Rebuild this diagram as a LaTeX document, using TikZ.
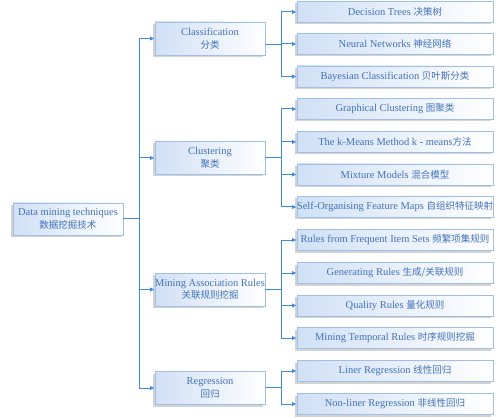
\documentclass[tikz,border=0pt]{standalone}
\usepackage{fontspec}
\setmainfont{Liberation Serif}
\newfontfamily\zhfont{Noto Sans CJK SC}
\newcommand{\zh}[1]{{\zhfont\fontsize{9.5}{11}\selectfont #1}}
\usetikzlibrary{arrows.meta,shadows,positioning,calc}
\definecolor{txtblue}{HTML}{4272B8}
\definecolor{bordblue}{HTML}{9EBFE6}
\definecolor{fillblue}{HTML}{D0E0F6}
\definecolor{linkblue}{HTML}{3D8BE0}
\tikzset{
  box/.style={draw=bordblue, line width=0.8pt, left color=fillblue, right color=white,
    text=txtblue, font=\fontsize{10.5}{12.5}\selectfont, align=center, inner sep=0pt,
    drop shadow={shadow xshift=-2pt, shadow yshift=-2pt, opacity=0.35, fill=gray}},
  rootbox/.style={box, minimum width=110pt, minimum height=32pt},
  midbox/.style={box, minimum width=110pt, minimum height=33pt},
  leafbox/.style={box, minimum width=196pt, minimum height=21pt},
  link/.style={color=linkblue, line width=1pt},
  arr/.style={link, -{Latex[length=4.5pt,width=4.5pt]}}
}
\begin{document}
\begin{tikzpicture}[x=1pt,y=-1pt]
\useasboundingbox (0,0) rectangle (499,420);
% root
\node[rootbox] (root) at (68,219) {Data mining techniques\\\zh{数据挖掘技术}};
% level 1
\node[midbox] (cls) at (210,38.5) {Classification\\\zh{分类}};
\node[midbox] (clu) at (210,158) {Clustering\\\zh{聚类}};
\node[midbox] (mar) at (210,289.5) {Mining Association Rules\\\zh{关联规则挖掘}};
\node[midbox] (reg) at (210,388) {Regression\\\zh{回归}};
% leaves
\node[leafbox] (l1) at (395,12) {Decision Trees \zh{决策树}};
\node[leafbox] (l2) at (395,44) {Neural Networks \zh{神经网络}};
\node[leafbox] (l3) at (395,76.5) {Bayesian Classification \zh{贝叶斯分类}};
\node[leafbox] (l4) at (395,109) {Graphical Clustering \zh{图聚类}};
\node[leafbox] (l5) at (395,142) {The k-Means Method k - means\zh{方法}};
\node[leafbox] (l6) at (395,174.5) {Mixture Models \zh{混合模型}};
\node[leafbox] (l7) at (395,207) {Self-Organising Feature Maps \zh{自组织特征映射}};
\node[leafbox] (l8) at (395,240) {Rules from Frequent Item Sets \zh{频繁项集规则}};
\node[leafbox] (l9) at (395,273) {Generating Rules \zh{生成/关联规则}};
\node[leafbox] (l10) at (395,305.5) {Quality Rules \zh{量化规则}};
\node[leafbox] (l11) at (395,338) {Mining Temporal Rules \zh{时序规则挖掘}};
\node[leafbox] (l12) at (395,371) {Liner Regression \zh{线性回归}};
\node[leafbox] (l13) at (395,404) {Non-liner Regression \zh{非线性回归}};
% trunk
\coordinate (tj) at (139,219);
\draw[link] (root.east) -- (tj);
\draw[link] (139,0 |- cls.west) -- (139,0 |- reg.west);
\foreach \n in {cls,clu,mar,reg} \draw[arr] (139,0 |- \n.west) -- (\n.west);
% branches
\foreach \p/\a/\b/\list in {cls/l1/l3/{l1,l2,l3}, clu/l4/l7/{l4,l5,l6,l7}, mar/l8/l11/{l8,l9,l10,l11}, reg/l12/l13/{l12,l13}}{
  \coordinate (m) at ($(\a.west)!0.5!(\b.west)$);
  \draw[link] (\p.east |- m) -- (281,0 |- m);
  \draw[link] (281,0 |- \a.west) -- (281,0 |- \b.west);
  \foreach \c in \list \draw[arr] (281,0 |- \c.west) -- (\c.west);
}
\end{tikzpicture}
\end{document}
